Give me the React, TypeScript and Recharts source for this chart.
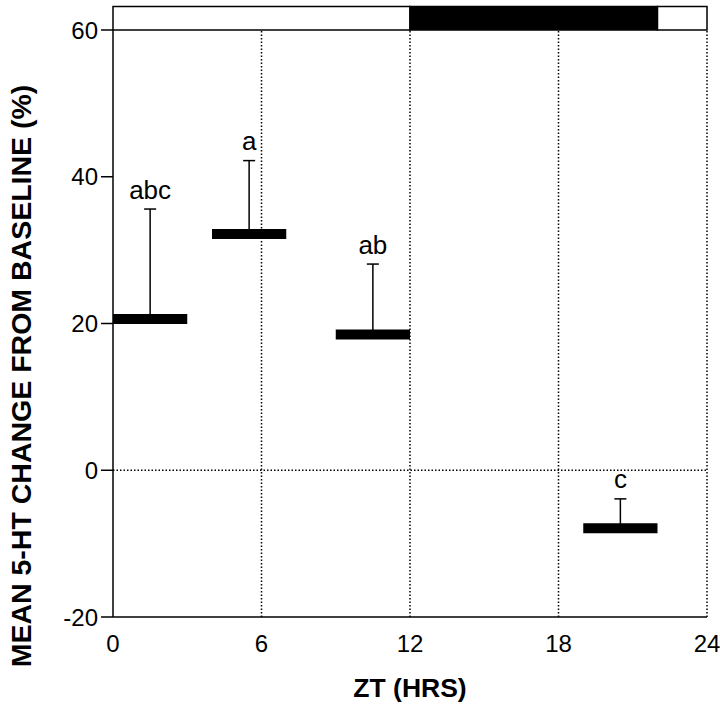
import React from 'react';
import {
  ComposedChart,
  Line,
  Scatter,
  ErrorBar,
  XAxis,
  YAxis,
  ReferenceLine,
  ReferenceArea,
  LabelList,
  Label,
} from 'recharts';

// ZT bins (hours) and mean 5-HT change from baseline (%)
const binStart = [0, 4, 9, 19];
const binEnd = [3, 7, 12, 22];
const meanChange = [20.6, 32.2, 18.5, -7.9];
const semChange = [15.0, 10.0, 9.6, 4.0];
const groupLetters = ['abc', 'a', 'ab', 'c'];

// light / dark bar above the plot
const phaseStart = [0, 12, 22];
const phaseEnd = [12, 22, 24];
const phaseDark = [false, true, false];
const phaseBarTop = 63.2;

const xTicks = [0, 6, 12, 18, 24];
const yTicks = [-20, 0, 20, 40, 60];
const gridX = [6, 12, 18, 24];

const FONT = '"Liberation Sans", Arial, Helvetica, sans-serif';

const points = binStart.map((s, i) => ({
  x: (s + binEnd[i]) / 2,
  y: meanChange[i],
  err: [0, semChange[i]],
}));

const letterPoints = binStart.map((s, i) => ({
  x: (s + binEnd[i]) / 2,
  y: meanChange[i] + semChange[i],
  letter: groupLetters[i],
}));

const noShape = () => <g />;

const XTick = (props: any) => (
  <text x={props.x} y={props.y} dy="0.71em" textAnchor="middle" fontFamily={FONT} fontSize={24} fill="#000">
    {props.payload.value}
  </text>
);

const YTick = (props: any) => (
  <text x={props.x} y={props.y} dy="0.36em" textAnchor="end" fontFamily={FONT} fontSize={24} fill="#000">
    {props.payload.value}
  </text>
);

const YTitle = (props: any) => {
  const vb = props.viewBox || { x: 0, y: 0 };
  const cx = vb.x + 21;
  const cy = 376;
  return (
    <text
      x={cx}
      y={cy}
      transform={`rotate(-90, ${cx}, ${cy})`}
      textAnchor="middle"
      dominantBaseline="central"
      fontFamily={FONT}
      fontWeight="bold"
      fontSize={28.5}
      fill="#000"
    >
      MEAN 5-HT CHANGE FROM BASELINE (%)
    </text>
  );
};

export default function App() {
  return (
    <div style={{ position: 'absolute', left: 0, top: 0, width: 720, height: 704, background: '#fff' }}>
      <ComposedChart width={720} height={704} margin={{ top: 30, right: 13, bottom: 0, left: 0 }}>
        <XAxis
          type="number"
          dataKey="x"
          domain={[0, 24]}
          ticks={xTicks}
          allowDataOverflow
          height={87}
          axisLine={{ stroke: '#000', strokeWidth: 1.5 }}
          tickLine={false}
          tickMargin={12}
          tick={XTick}
        >
          <Label
            value="ZT (HRS)"
            position="insideBottom"
            offset={7}
            style={{ fontFamily: FONT, fontWeight: 'bold', fontSize: 26.5, fill: '#000' }}
          />
        </XAxis>
        <YAxis
          type="number"
          domain={[-20, 60]}
          ticks={yTicks}
          allowDataOverflow
          width={113}
          axisLine={{ stroke: '#000', strokeWidth: 1.5 }}
          tickLine={{ stroke: '#000', strokeWidth: 1.5 }}
          tickSize={12}
          tickMargin={3}
          tick={YTick}
        >
          <Label content={YTitle} />
        </YAxis>

        <ReferenceLine y={0} stroke="#000" strokeWidth={1.5} strokeDasharray="1.5 2" />
        {gridX.map((v) => (
          <ReferenceLine key={`gx-${v}`} x={v} stroke="#000" strokeWidth={1.5} strokeDasharray="1.5 2" />
        ))}

        {phaseStart.map((s, i) => (
          <ReferenceArea
            key={`ph-${i}`}
            x1={s}
            x2={phaseEnd[i]}
            y1={60}
            y2={phaseBarTop}
            ifOverflow="visible"
            fill={phaseDark[i] ? '#000' : '#fff'}
            fillOpacity={1}
            stroke="#000"
            strokeWidth={1.5}
          />
        ))}

        {binStart.map((s, i) => (
          <Line
            key={`bar-${i}`}
            data={[
              { x: s, y: meanChange[i] },
              { x: binEnd[i], y: meanChange[i] },
            ]}
            dataKey="y"
            stroke="#000"
            strokeWidth={10}
            strokeLinecap="butt"
            dot={false}
            activeDot={false}
            isAnimationActive={false}
          />
        ))}

        <Scatter data={points} dataKey="y" shape={noShape} isAnimationActive={false}>
          <ErrorBar dataKey="err" direction="y" width={6} stroke="#000" strokeWidth={1.5} isAnimationActive={false} />
        </Scatter>

        <Scatter data={letterPoints} dataKey="y" shape={noShape} isAnimationActive={false}>
          <LabelList
            dataKey="letter"
            position="top"
            offset={6}
            style={{ fontFamily: FONT, fontSize: 26, fill: '#000' }}
          />
        </Scatter>
      </ComposedChart>
    </div>
  );
}
